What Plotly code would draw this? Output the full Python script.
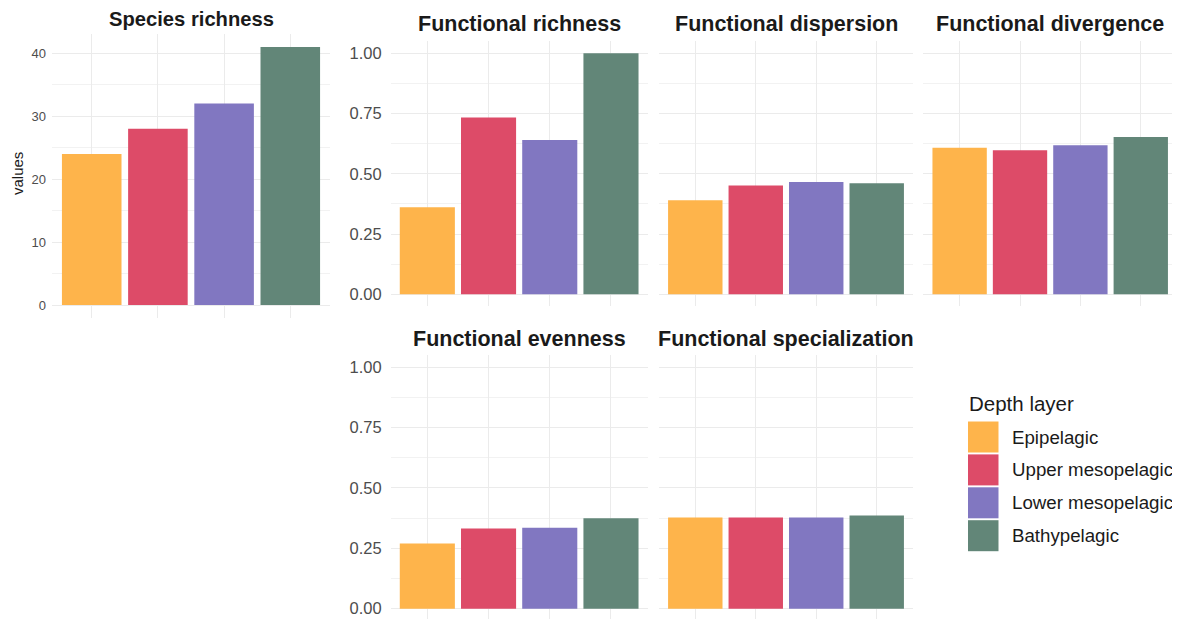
import plotly.graph_objects as go

layers = ["Epipelagic", "Upper mesopelagic", "Lower mesopelagic", "Bathypelagic"]
colors = ["#FEB44B", "#DD4B68", "#8177C1", "#628678"]

species_richness = [24, 28, 32, 41]
functional_richness = [0.361, 0.734, 0.640, 1.0]
functional_dispersion = [0.390, 0.451, 0.466, 0.461]
functional_divergence = [0.608, 0.598, 0.618, 0.653]
functional_evenness = [0.270, 0.332, 0.335, 0.375]
functional_specialization = [0.378, 0.378, 0.378, 0.386]

# The page body has an 8px margin, so the figure is drawn 8px in from the window corner.
OFF = 8
W, H = 1180 - OFF, 619 - OFF
FONT = "Liberation Sans, Arial, sans-serif"
GRID = "#EBEBEB"
TICKC = "#4D4D4D"


def px(x):
    return (x - OFF) / W


def py(y):
    return 1 - (y - OFF) / H


panels = [
    # title, values, x-domain px, y-domain px (top, bottom), y-range, dtick, show ticks, title y, tick size, title size
    ("Species richness", species_richness, (52, 330), (34, 318), [-2.05, 43.05], 10, True, 18.8, 13, 20.2),
    ("Functional richness", functional_richness, (390.6, 647.7), (41.3, 306.4), [-0.0502, 1.0498], 0.25, True, 23.5, 16.5, 21.5),
    ("Functional dispersion", functional_dispersion, (659, 913), (41.3, 306.4), [-0.0502, 1.0498], 0.25, False, 23.5, 16.5, 21.5),
    ("Functional divergence", functional_divergence, (923.4, 1177), (41.3, 306.4), [-0.0502, 1.0498], 0.25, False, 23.5, 16.5, 21.5),
    ("Functional evenness", functional_evenness, (390.6, 647.7), (355.2, 619), [-0.0427, 1.050], 0.25, True, 339.5, 16.5, 21.5),
    ("Functional specialization", functional_specialization, (659, 913), (355.2, 619), [-0.0427, 1.050], 0.25, False, 339.5, 16.5, 21.5),
]

fig = go.Figure()
annotations = []
layout_axes = {}

for i, (title, vals, xd, yd, yr, dt, showt, ty, tfs, ttl) in enumerate(panels):
    n = i + 1
    xa = "x" if n == 1 else f"x{n}"
    ya = "y" if n == 1 else f"y{n}"
    fig.add_trace(go.Bar(
        x=layers, y=vals, xaxis=xa, yaxis=ya,
        marker=dict(color=colors, line=dict(width=0)),
        width=0.9, showlegend=False,
        hovertemplate="%{x}: %{y}<extra></extra>",
    ))
    xkey = "xaxis" if n == 1 else f"xaxis{n}"
    ykey = "yaxis" if n == 1 else f"yaxis{n}"
    layout_axes[xkey] = dict(
        domain=[px(xd[0]), px(xd[1])], anchor=ya,
        type="category", categoryorder="array", categoryarray=layers,
        range=[-0.6, 3.6], showticklabels=False, ticks="",
        showgrid=True, gridcolor=GRID, gridwidth=1.4,
        zeroline=False, showline=False, fixedrange=True,
    )
    layout_axes[ykey] = dict(
        domain=[py(yd[1]), py(yd[0])], anchor=xa,
        range=yr, dtick=dt, tick0=0, showticklabels=showt,
        tickformat=".2f" if dt < 1 else "d",
        tickfont=dict(family=FONT, size=tfs, color=TICKC),
        ticks="", ticklabelstandoff=8 if n > 1 else 5,
        showgrid=True, gridcolor=GRID, gridwidth=1.4,
        minor=dict(dtick=dt / 2, tick0=0, showgrid=True, gridcolor="#F2F2F2", gridwidth=0.8),
        zeroline=False, showline=False, fixedrange=True,
    )
    annotations.append(dict(
        text=f"<b>{title}</b>", x=px((xd[0] + xd[1]) / 2), y=py(ty),
        xref="paper", yref="paper", xanchor="center", yanchor="middle",
        showarrow=False, font=dict(family=FONT, size=ttl, color="#1A1A1A"),
    ))

# y-axis title of the species panel
annotations.append(dict(
    text="values", x=px(17), y=py(174), xref="paper", yref="paper",
    xanchor="center", yanchor="middle", textangle=-90, showarrow=False,
    font=dict(family=FONT, size=15, color="#1A1A1A"),
))

# Legend (drawn manually to match the large square keys)
shapes = []
annotations.append(dict(
    text="Depth layer", x=px(967), y=py(403), xref="paper", yref="paper",
    xanchor="left", yanchor="middle", showarrow=False,
    font=dict(family=FONT, size=20.5, color="#1A1A1A"),
))
key_top = 421.5
step = 32.9
for k, (lab, col) in enumerate(zip(layers, colors)):
    t = key_top + k * step
    b = t + 31
    shapes.append(dict(type="rect", xref="paper", yref="paper",
                       x0=px(968), x1=px(998.5), y0=py(b), y1=py(t),
                       fillcolor=col, line=dict(width=0)))
    annotations.append(dict(
        text=lab, x=px(1010), y=py((t + b) / 2), xref="paper", yref="paper",
        xanchor="left", yanchor="middle", showarrow=False,
        font=dict(family=FONT, size=18.7, color="#1A1A1A"),
    ))

fig.update_layout(
    width=W, height=H,
    margin=dict(l=0, r=0, t=0, b=0),
    paper_bgcolor="white", plot_bgcolor="white",
    annotations=annotations, shapes=shapes,
    bargap=0.1, showlegend=False,
    **layout_axes,
)

fig.write_html("out.html")
